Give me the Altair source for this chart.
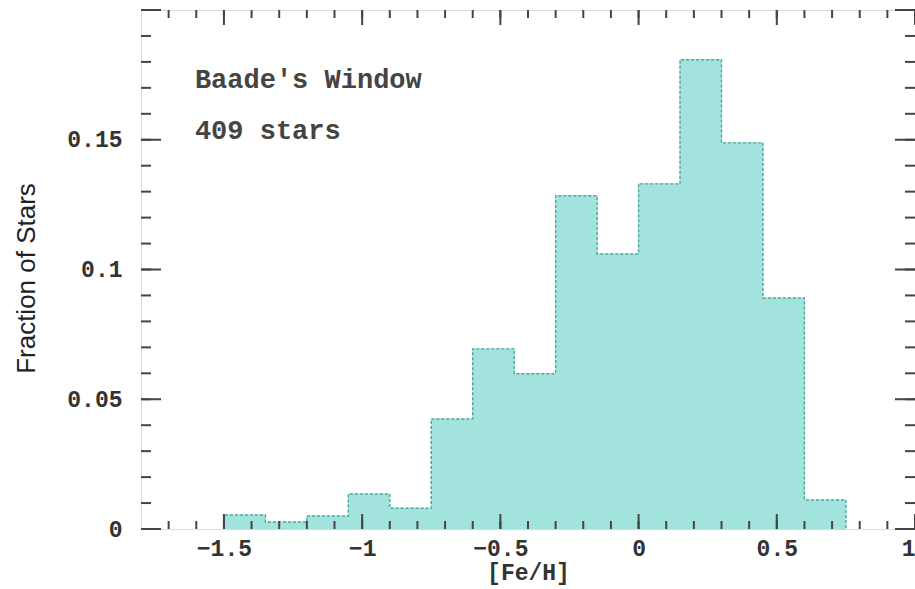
import altair as alt
import pandas as pd
import numpy as np

# ---- data ----
BIN_START = [-1.5, -1.35, -1.2, -1.05, -0.9, -0.75, -0.6, -0.45, -0.3, -0.15,
             0.0, 0.15, 0.3, 0.45, 0.6]
BIN_WIDTH = 0.15
FRACTION = [0.0054, 0.0027, 0.0050, 0.0135, 0.0080, 0.0424, 0.0694, 0.0598,
            0.1284, 0.1060, 0.1330, 0.1808, 0.1488, 0.0890, 0.0112]

X_LABELS = [-1.5, -1.0, -0.5, 0.0, 0.5, 1.0]
Y_LABELS = [0.0, 0.05, 0.1, 0.15]
X_MINOR = [round(v, 2) for v in np.arange(-1.7, 1.0001, 0.1)]
Y_MINOR = [round(v, 3) for v in np.arange(0.01, 0.2001, 0.01)]

ANNOT_TEXT = ["Baade's Window", "409 stars"]
ANNOT_X = [-1.605, -1.605]
ANNOT_Y = [0.1700, 0.1503]

# ---- layout / style ----
W, H = 774, 519
FILL = "#a3e3dd"
EDGE = "#4fa69f"
INK = "#333333"
MONO = "Liberation Mono"

xs = alt.Scale(domain=[-1.8, 1.0], nice=False, zero=False)
ys = alt.Scale(domain=[0.0, 0.2], nice=False, zero=False)

bars = pd.DataFrame({
    "start": BIN_START,
    "end": [s + BIN_WIDTH for s in BIN_START],
    "frac": FRACTION,
    "base": [0.0] * len(BIN_START),
})

outline = pd.DataFrame({
    "x": [BIN_START[0]] + BIN_START + [BIN_START[-1] + BIN_WIDTH],
    "y": [0.0] + FRACTION + [0.0],
    "o": list(range(len(BIN_START) + 2)),
})

y_major = Y_LABELS + [0.2]
xt = pd.DataFrame({"v": X_MINOR + X_LABELS,
                   "len": [8] * len(X_MINOR) + [15] * len(X_LABELS)})
yt = pd.DataFrame({"v": Y_MINOR + y_major,
                   "len": [10] * len(Y_MINOR) + [20] * len(y_major)})

x_axis = alt.Axis(values=X_LABELS, ticks=False, domain=False, grid=False,
                  labelFont=MONO, labelFontSize=23, labelFontWeight="bold",
                  labelColor=INK, labelPadding=8, format="~g",
                  title="[Fe/H]", titleFont=MONO, titleFontSize=23,
                  titleFontWeight="bold", titleColor=INK, titlePadding=1)
y_axis = alt.Axis(values=Y_LABELS, ticks=False, domain=False, grid=False,
                  labelFont=MONO, labelFontSize=23, labelFontWeight="bold",
                  labelColor=INK, labelPadding=19, format="~g",
                  title="Fraction of Stars",
                  titleFont="Liberation Sans Narrow, Liberation Sans",
                  titleFontSize=26, titleFontWeight="normal",
                  titleColor="#222222", titlePadding=27, titleY=268)

hist = alt.Chart(bars).mark_rect(
    fill=FILL, stroke=FILL, strokeWidth=0.8, opacity=1
).encode(
    x=alt.X("start:Q", scale=xs, axis=x_axis),
    x2="end:Q",
    y=alt.Y("frac:Q", scale=ys, axis=y_axis),
    y2="base:Q",
)

edge = alt.Chart(outline).mark_line(
    interpolate="step-after", color=EDGE, strokeWidth=1.4, strokeDash=[3, 2]
).encode(
    x=alt.X("x:Q", scale=xs),
    y=alt.Y("y:Q", scale=ys),
    order="o:Q",
)

tick_style = dict(color="#444444", strokeWidth=2)


def vticks(df, y0, sign):
    parts = []
    for ln in sorted(set(df["len"])):
        sub = df[df["len"] == ln]
        parts.append(alt.Chart(sub).mark_rule(**tick_style).encode(
            x=alt.X("v:Q", scale=xs),
            y=alt.value(y0),
            y2=alt.value(y0 + sign * ln),
        ))
    return parts


def hticks(df, x0, sign):
    parts = []
    for ln in sorted(set(df["len"])):
        sub = df[df["len"] == ln]
        parts.append(alt.Chart(sub).mark_rule(**tick_style).encode(
            y=alt.Y("v:Q", scale=ys),
            x=alt.value(x0),
            x2=alt.value(x0 + sign * ln),
        ))
    return parts


tick_layers = (vticks(xt, H, -1) + vticks(xt, 0, 1)
               + hticks(yt, 0, 1) + hticks(yt, W, -1))

annot = alt.Chart(pd.DataFrame({"t": ANNOT_TEXT, "x": ANNOT_X, "y": ANNOT_Y})).mark_text(
    align="left", baseline="alphabetic", font=MONO, fontSize=27,
    fontWeight="bold", color="#444444"
).encode(
    x=alt.X("x:Q", scale=xs),
    y=alt.Y("y:Q", scale=ys),
    text="t:N",
)

chart = alt.layer(hist, edge, *tick_layers, annot).properties(
    width=W, height=H,
    autosize=alt.AutoSizeParams(type="none"),
    padding={"left": 141, "top": 10, "right": 0, "bottom": 60},
).configure_view(
    stroke="#2a2a2a", strokeWidth=2.5
).configure(background="white")

chart.save("out.html", embed_options={"renderer": "svg", "actions": False})
